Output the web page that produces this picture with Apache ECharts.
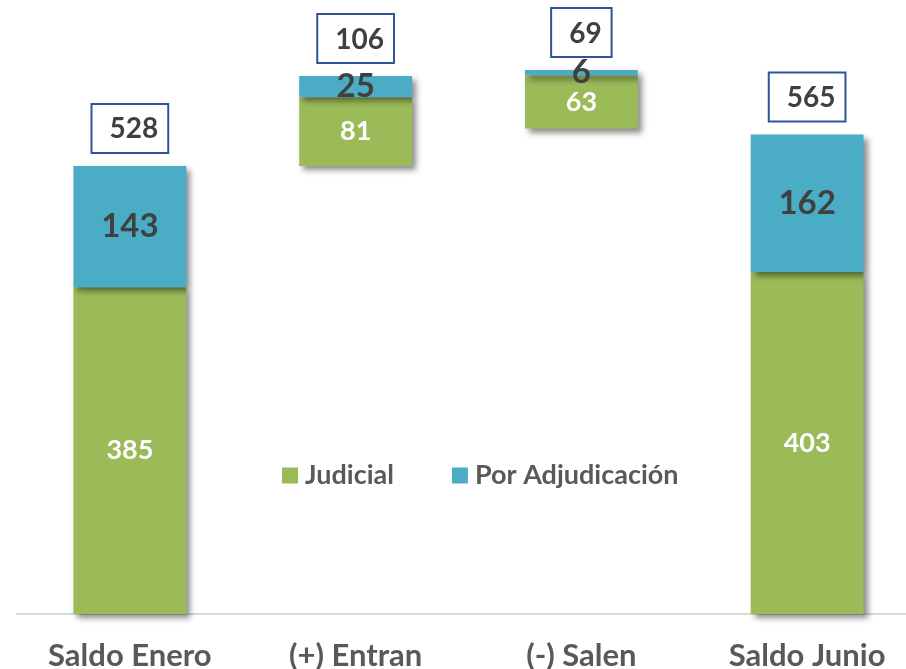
<!DOCTYPE html>
<html><head><meta charset="utf-8">
<script src="https://cdn.jsdelivr.net/npm/echarts@6/dist/echarts.min.js"></script>
<style>html,body{margin:0;padding:0;background:#fff}#c{width:906px;height:669px}</style>
</head><body><div id="c"></div>
<script>
const categories = ['Saldo Enero', '(+) Entran', '(-) Salen', 'Saldo Junio'];
const baseOffset = [0, 528, 572, 0];
const judicial = [385, 81, 63, 403];
const adjudicacion = [143, 25, 6, 162];
const totals = [528, 106, 69, 565];

const FONT = 'Lato';
const shadow = {shadowColor: 'rgba(0,0,0,0.45)', shadowBlur: 6, shadowOffsetX: 4, shadowOffsetY: 4};
const chart = echarts.init(document.getElementById('c'));
chart.setOption({
  animation: false,
  textStyle: {fontFamily: FONT},
  grid: {left: 17, right: -14, top: 20, bottom: 55, containLabel: false, outerBoundsMode: 'none'},
  legend: {
    data: ['Judicial', 'Por Adjudicación'],
    left: 277, top: 457, itemWidth: 16, itemHeight: 16, itemGap: 58,
    icon: 'rect',
    textStyle: {fontFamily: FONT, fontWeight: 'bold', fontSize: 27, color: '#595959', padding: [0, 0, 0, 2]}
  },
  xAxis: {
    type: 'category', data: categories,
    axisLine: {lineStyle: {color: '#d9d9d9', width: 2}},
    axisTick: {show: false},
    axisLabel: {fontFamily: FONT, fontWeight: 'bold', fontSize: 31, color: '#595959', margin: 26}
  },
  yAxis: {type: 'value', min: 0, max: 700, show: false, splitLine: {show: false}},
  series: [
    {name: 'base', type: 'bar', stack: 's', data: baseOffset, barWidth: '50%',
     itemStyle: {color: 'rgba(0,0,0,0)'}, silent: true},
    {name: 'Judicial', type: 'bar', stack: 's', data: judicial, barWidth: '50%',
     itemStyle: Object.assign({color: '#9BBB59'}, shadow),
     label: {show: true, position: 'inside', color: '#fff', fontFamily: FONT, fontWeight: 'bold', fontSize: 27}},
    {name: 'Por Adjudicación', type: 'bar', stack: 's', data: adjudicacion, barWidth: '50%',
     itemStyle: Object.assign({color: '#4BACC6'}, shadow),
     label: {show: true, position: 'inside', color: '#404040', fontFamily: FONT, fontWeight: 'bold', fontSize: 33}},
    {name: 'Total', type: 'bar', stack: 's', data: totals.map(() => 0), barWidth: '50%',
     itemStyle: {color: 'rgba(0,0,0,0)'},
     label: {show: true, position: 'top', distance: 14,
       formatter: p => String(totals[p.dataIndex]),
       color: '#404040', fontFamily: FONT, fontWeight: 'bold', fontSize: 28, lineHeight: 29,
       backgroundColor: '#fff', borderColor: '#2F5597', borderWidth: 2,
       padding: [10, 9, 8, 17]}}
  ]
});
</script></body></html>
